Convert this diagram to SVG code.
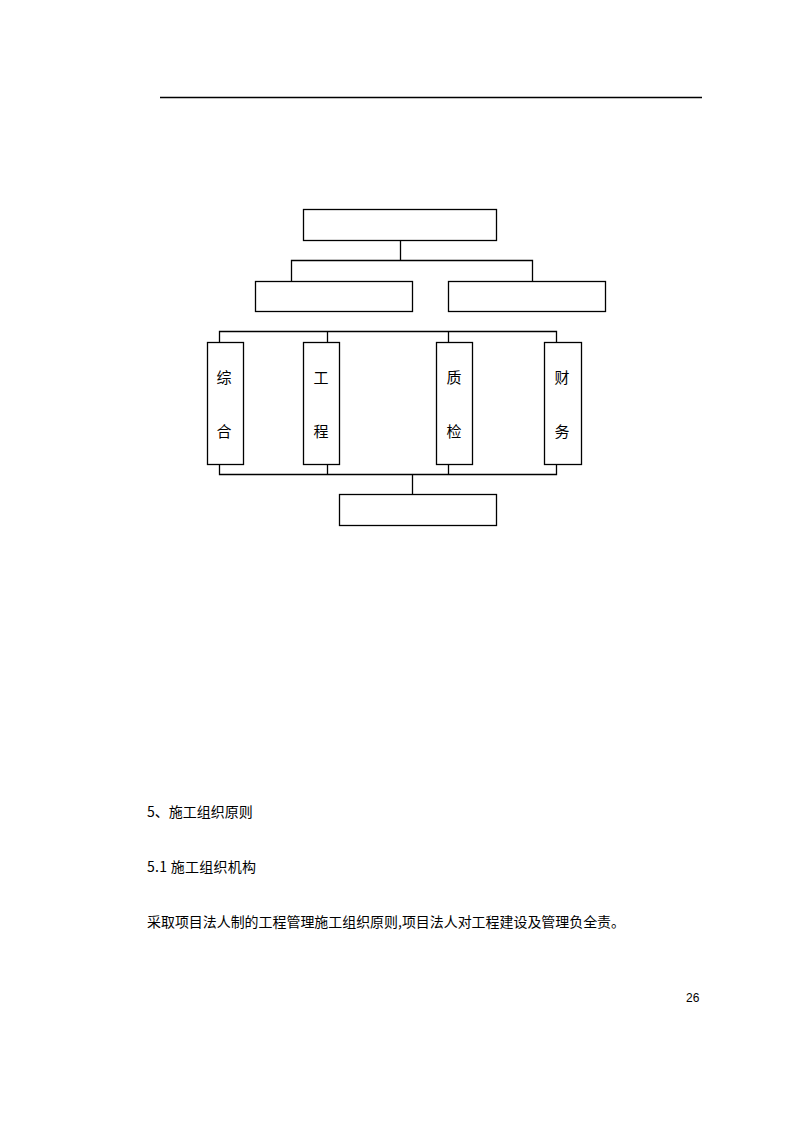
<svg xmlns="http://www.w3.org/2000/svg" width="794" height="1123" viewBox="0 0 794 1123">
<style>
.box{fill:#fff;stroke:#000;stroke-width:1.3}
.ln{fill:none;stroke:#000;stroke-width:1.3}
.t{font-family:"Noto Sans CJK SC","Liberation Sans",sans-serif;font-size:14px;fill:#000}
.c{font-family:"Noto Sans CJK SC",sans-serif;font-size:15px;fill:#000;text-anchor:middle;dominant-baseline:central}
</style>
<rect width="794" height="1123" fill="#fff"/>
<line x1="160" y1="97.5" x2="702" y2="97.5" stroke="#000" stroke-width="1.3"/>
<g id="connectors">
<path class="ln" d="M400.5 240.5V260.5M291.5 281V260.5H532.5V281"/>
<path class="ln" d="M219.5 342V331.5H556.5V342M327.5 331.5V342M448.5 331.5V342"/>
<path class="ln" d="M219.5 464V474.5H556.5V464M327.5 464V474.5M448.5 464V474.5M412.5 474.5V494.5"/>
</g>
<g id="top"><rect class="box" x="303.5" y="209.5" width="193" height="31"/></g>
<g id="left"><rect class="box" x="255.5" y="281.5" width="157" height="30"/></g>
<g id="right"><rect class="box" x="448.5" y="281.5" width="157" height="30"/></g>
<g id="zonghe"><rect class="box" x="207.5" y="342.5" width="36" height="122"/><text class="c" x="224" y="376">综</text><text class="c" x="224" y="430">合</text></g>
<g id="gongcheng"><rect class="box" x="303.5" y="342.5" width="36" height="122"/><text class="c" x="321" y="376">工</text><text class="c" x="321" y="430">程</text></g>
<g id="zhijian"><rect class="box" x="436.5" y="342.5" width="36" height="122"/><text class="c" x="454" y="376">质</text><text class="c" x="454" y="430">检</text></g>
<g id="caiwu"><rect class="box" x="544.5" y="342.5" width="37" height="122"/><text class="c" x="562" y="376">财</text><text class="c" x="562" y="430">务</text></g>
<g id="bottom"><rect class="box" x="339.5" y="494.5" width="157" height="31"/></g>
<text class="t" x="147" y="817">5、施工组织原则</text>
<text class="t" x="147" y="872" textLength="109" lengthAdjust="spacing">5.1 施工组织机构</text>
<text class="t" x="147" y="927" textLength="478" lengthAdjust="spacingAndGlyphs">采取项目法人制的工程管理施工组织原则,项目法人对工程建设及管理负全责。</text>
<text x="686" y="1002" font-family="Liberation Sans, sans-serif" font-size="12">26</text>
</svg>
